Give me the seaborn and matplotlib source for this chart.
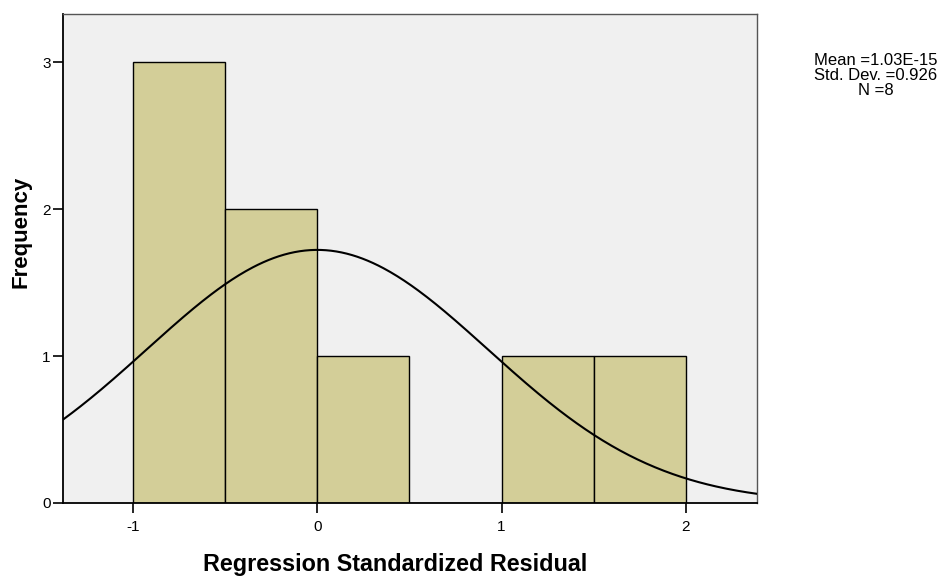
import numpy as np
import matplotlib
matplotlib.use("Agg")
import matplotlib.pyplot as plt
import seaborn as sns

# Data (estimated standardized residuals, N = 8)
residuals = [-0.95, -0.85, -0.65, -0.35, -0.2, 0.3, 1.05, 1.65]
bin_edges = [-1.0, -0.5, 0.0, 0.5, 1.0, 1.5, 2.0]
stat_mean = 1.03e-15
stat_sd = 0.926
stat_n = 8
x_ticks = [-1, 0, 1, 2]
y_ticks = [0, 1, 2, 3]

sns.set_style("white")
plt.rcParams['font.family'] = ['Liberation Sans', 'DejaVu Sans']

fig = plt.figure(figsize=(9.47, 5.81), dpi=100)
ax = fig.add_axes([0.0665, 0.1343, 0.7329, 0.8417])
ax.set_facecolor('#f0f0f0')

sns.histplot(x=residuals, bins=bin_edges, ax=ax, color='#d3ce98', alpha=1,
             edgecolor='black', linewidth=1.0, zorder=2)

xs = np.linspace(-1.38, 2.39, 400)
bw = bin_edges[1] - bin_edges[0]
ys = stat_n * bw / (stat_sd * np.sqrt(2 * np.pi)) * np.exp(-0.5 * ((xs - stat_mean) / stat_sd) ** 2)
sns.lineplot(x=xs, y=ys, ax=ax, color='black', linewidth=1.5, zorder=3)

ax.set_xlim(-1.38, 2.386)
ax.set_ylim(0, 3.33)
ax.set_xticks(x_ticks)
ax.set_xticklabels([str(t) for t in x_ticks])
ax.set_yticks(y_ticks)
ax.set_yticklabels([str(t) for t in y_ticks])
ax.tick_params(axis='both', bottom=True, left=True, direction='out', width=1.2,
               color='black', labelcolor='black', labelsize=11)
ax.tick_params(axis='y', length=7, pad=2)
ax.tick_params(axis='x', length=7, pad=5)

for side in ['left', 'bottom']:
    ax.spines[side].set_color('black')
    ax.spines[side].set_linewidth(1.3)
for side in ['top', 'right']:
    ax.spines[side].set_color('#555555')
    ax.spines[side].set_linewidth(1.0)

ax.set_xlabel('Regression Standardized Residual', fontsize=16.8, fontweight='bold',
              color='black')
ax.set_ylabel('Frequency', fontsize=16, fontweight='bold', color='black')
ax.xaxis.set_label_coords(0.478, -0.102)
ax.yaxis.set_label_coords(-0.046, 0.554)

fig.text(0.925, 0.870, 'Mean =1.03E-15\nStd. Dev. =0.926\nN =8', ha='center', va='center',
         fontsize=12, linespacing=1.0, color='black')

fig.savefig('out.png', dpi=100)
